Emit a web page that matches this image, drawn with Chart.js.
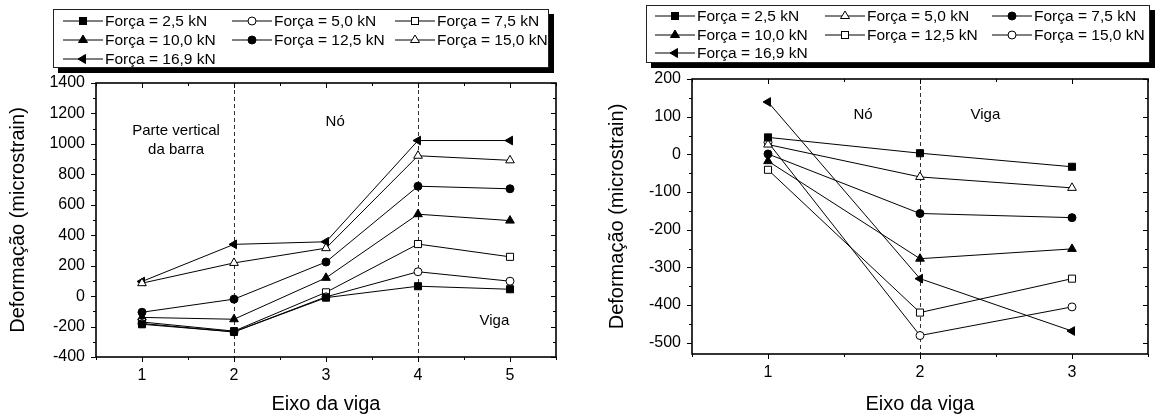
<!DOCTYPE html>
<html><head><meta charset="utf-8">
<script src="https://cdn.jsdelivr.net/npm/chart.js@4.4.1/dist/chart.umd.min.js"></script>
<style>
body{margin:0;width:1157px;height:419px;background:#fff;position:relative;overflow:hidden;font-family:"Liberation Sans",Arial,sans-serif;color:#000;}
canvas{position:absolute;top:0;}
.legend{position:absolute;box-sizing:border-box;border:1px solid #222;background:#fff;box-shadow:5px 5px 0 #000;}
.item{position:absolute;height:18px;display:flex;align-items:center;font-size:15.5px;white-space:nowrap;}
.item svg{margin-right:2px;}
</style></head>
<body>
<canvas id="c1" width="580" height="419" style="left:0px"></canvas>
<canvas id="c2" width="567" height="419" style="left:590px"></canvas>
<div class="legend" id="lg1" style="left:53px;top:9px;width:496px;height:59px"></div>
<div class="legend" id="lg2" style="left:646px;top:5px;width:504px;height:58px"></div>
<script>
// ---- data ----
const forceLabels = ['Força = 2,5 kN','Força = 5,0 kN','Força = 7,5 kN','Força = 10,0 kN','Força = 12,5 kN','Força = 15,0 kN','Força = 16,9 kN'];
const yTitle = 'Deformação (microstrain)';
const xTitle = 'Eixo da viga';

// left chart
const leftX = [1, 2, 3, 4, 5];
const left_F2_5  = [-185, -235, -10, 65, 45];
const left_F5_0  = [-180, -235, -5, 160, 98];
const left_F7_5  = [-170, -230, 25, 342, 258];
const left_F10_0 = [-140, -152, 120, 538, 496];
const left_F12_5 = [-106, -20, 224, 722, 705];
const left_F15_0 = [85, 218, 315, 922, 892];
const left_F16_9 = [96, 340, 357, 1022, 1022];
const leftYTickLabels = [-400, -200, 0, 200, 400, 600, 800, 1000, 1200, 1400];
const leftXTickLabels = [1, 2, 3, 4, 5];
const leftDashed = [2, 4];
const leftNotes = [
  {text:'Parte vertical', x:1.37, y:1085},
  {text:'da barra', x:1.37, y:960},
  {text:'Nó', x:3.1, y:1144},
  {text:'Viga', x:4.83, y:-164}
];

// right chart
const rightX = [1, 2, 3];
const right_F2_5  = [45, 3, -33];
const right_F5_0  = [26, -60, -89];
const right_F7_5  = [1, -157, -168];
const right_F10_0 = [-18, -277, -251];
const right_F12_5 = [-41, -420, -330];
const right_F15_0 = [32, -481, -405];
const right_F16_9 = [139, -330, -469];
const rightYTickLabels = [-500, -400, -300, -200, -100, 0, 100, 200];
const rightXTickLabels = [1, 2, 3];
const rightDashed = [2];
const rightNotes = [
  {text:'Nó', x:1.625, y:104},
  {text:'Viga', x:2.43, y:104}
];

// ---- marker styles ----
const M = {
  sqF:{style:'rect', fill:true, rot:0, r:5},
  sqO:{style:'rect', fill:false, rot:0, r:5},
  ciF:{style:'circle', fill:true, rot:0, r:4},
  ciO:{style:'circle', fill:false, rot:0, r:4},
  trF:{style:'triangle', fill:true, rot:0, r:5},
  trO:{style:'triangle', fill:false, rot:0, r:5},
  lt:{style:'triangle', fill:true, rot:-90, r:5}
};
const leftMarkers = [M.sqF, M.ciO, M.sqO, M.trF, M.ciF, M.trO, M.lt];
const rightMarkers = [M.sqF, M.trO, M.ciF, M.trF, M.sqO, M.ciO, M.lt];

const framePlugin = {
  id:'frame',
  beforeDatasetsDraw(chart, args, o){
    const {ctx, chartArea:a, scales:{x}} = chart;
    ctx.save();
    ctx.setLineDash([4,3]);
    ctx.strokeStyle = '#333'; ctx.lineWidth = 1;
    o.dashes.forEach(v=>{
      const px = Math.round(x.getPixelForValue(v)) + 0.5;
      ctx.beginPath(); ctx.moveTo(px, a.top); ctx.lineTo(px, a.bottom); ctx.stroke();
    });
    ctx.restore();
  },
  afterDraw(chart, args, o){
    const {ctx, chartArea:a, scales:{x, y}} = chart;
    ctx.save();
    ctx.strokeStyle = '#000';
    ctx.lineWidth = 1;
    x.ticks.forEach(t=>{
      const v = t.value;
      const major = Math.abs(v - Math.round(v)) < 1e-6;
      const len = major ? 5 : 3;
      const px = Math.round(x.getPixelForValue(v)) + 0.5;
      ctx.beginPath();
      ctx.moveTo(px, a.bottom); ctx.lineTo(px, a.bottom + len);
      ctx.moveTo(px, a.top); ctx.lineTo(px, a.top + len);
      ctx.stroke();
    });
    y.ticks.forEach(t=>{
      const v = t.value;
      const major = v % o.major === 0;
      const len = major ? 5 : 3;
      const py = Math.round(y.getPixelForValue(v)) + 0.5;
      ctx.beginPath();
      ctx.moveTo(a.left - len, py); ctx.lineTo(a.left, py);
      ctx.moveTo(a.right - len, py); ctx.lineTo(a.right, py);
      ctx.stroke();
    });
    ctx.lineWidth = 1.6;
    ctx.strokeRect(a.left, a.top, a.right - a.left, a.bottom - a.top);
    // annotations
    ctx.fillStyle = '#000';
    ctx.font = '15px "Liberation Sans", Arial, sans-serif';
    ctx.textAlign = 'center'; ctx.textBaseline = 'middle';
    o.notes.forEach(n=>{
      ctx.fillText(n.text, x.getPixelForValue(n.x), y.getPixelForValue(n.y));
    });
    ctx.restore();
  }
};

function stepTicks(min, max, step){
  const out = [];
  const start = Math.ceil(min / step - 1e-9) * step;
  for (let v = start; v <= max + 1e-9; v += step) out.push({value: Math.round(v * 1000) / 1000});
  return out;
}

function makeChart(id, xs, series, markers, c){
  const datasets = series.map((s, i)=>{
    const m = markers[i];
    return {
      label: forceLabels[i],
      data: xs.map((xv, j)=>({x:xv, y:s[j]})),
      borderColor:'#000', borderWidth:1, tension:0,
      pointStyle:m.style, pointRotation:m.rot, pointRadius:m.r,
      pointBackgroundColor: m.fill ? '#000' : '#fff',
      pointBorderColor:'#000', pointBorderWidth:1,
      backgroundColor: m.fill ? '#000' : '#fff'
    };
  });
  const tickFont = {family:'"Liberation Sans", Arial, sans-serif', size:16};
  const titleFont = {family:'"Liberation Sans", Arial, sans-serif', size:20};
  return new Chart(document.getElementById(id), {
    type:'line',
    data:{datasets},
    options:{
      responsive:false, animation:false, events:[],
      layout:{padding:{left:0, top:c.top, right:c.right, bottom:0}},
      plugins:{legend:{display:false}, tooltip:{enabled:false},
        frame:{dashes:c.dashes, notes:c.notes, major:c.yMajor}},
      scales:{
        x:{type:'linear', min:c.xmin, max:c.xmax,
          afterBuildTicks(s){ s.ticks = stepTicks(c.xmin, c.xmax, 0.5); },
          ticks:{autoSkip:false, maxRotation:0, font:tickFont, color:'#000', padding:9,
            callback:(v)=> c.xLabels.includes(v) ? String(v) : ''},
          grid:{display:false, drawTicks:false}, border:{display:false},
          title:{display:true, text:xTitle, font:titleFont, color:'#000', padding:{top:0, bottom:3}},
          afterFit(s){ s.height = c.xh; }
        },
        y:{type:'linear', min:c.ymin, max:c.ymax,
          afterBuildTicks(s){ s.ticks = stepTicks(c.ymin, c.ymax, c.yMinor); },
          ticks:{autoSkip:false, font:tickFont, color:'#000', padding:11,
            callback:(v)=> c.yLabels.includes(v) ? String(v) : ''},
          grid:{display:false, drawTicks:false}, border:{display:false},
          title:{display:true, text:yTitle, font:titleFont, color:'#000', padding:{top:c.ytPad, bottom:0}},
          afterFit(s){ s.width = c.yw; }
        }
      }
    },
    plugins:[framePlugin]
  });
}

makeChart('c1', leftX,
  [left_F2_5, left_F5_0, left_F7_5, left_F10_0, left_F12_5, left_F15_0, left_F16_9], leftMarkers,
  {top:83, right:24, xh:62, yw:96, xmin:0.5, xmax:5.5, ymin:-400, ymax:1400, yMinor:100, yMajor:200,
   xLabels:leftXTickLabels, yLabels:leftYTickLabels, dashes:leftDashed, notes:leftNotes, ytPad:6});

makeChart('c2', rightX,
  [right_F2_5, right_F5_0, right_F7_5, right_F10_0, right_F12_5, right_F15_0, right_F16_9], rightMarkers,
  {top:79, right:1, xh:65, yw:102, xmin:0.5, xmax:3.5, ymin:-530, ymax:200, yMinor:50, yMajor:100,
   xLabels:rightXTickLabels, yLabels:rightYTickLabels, dashes:rightDashed, notes:rightNotes, ytPad:15});

// ---- HTML legends ----
function markerSvg(m){
  let shape = '';
  const fill = m.fill ? '#000' : '#fff';
  const cx = 20, cy = 9;
  if (m.style === 'rect') shape = `<rect x="${cx-3.5}" y="${cy-3.5}" width="7" height="7" fill="${fill}" stroke="#000" stroke-width="1"/>`;
  else if (m.style === 'circle') shape = `<circle cx="${cx}" cy="${cy}" r="4" fill="${fill}" stroke="#000" stroke-width="1"/>`;
  else if (m.rot === -90) shape = `<polygon points="${cx-5},${cy} ${cx+2.5},${cy-4.5} ${cx+2.5},${cy+4.5}" fill="${fill}" stroke="#000" stroke-width="1"/>`;
  else shape = `<polygon points="${cx},${cy-5} ${cx+4.5},${cy+2.5} ${cx-4.5},${cy+2.5}" fill="${fill}" stroke="#000" stroke-width="1"/>`;
  return `<svg width="40" height="18"><line x1="0" y1="${cy}" x2="40" y2="${cy}" stroke="#000" stroke-width="1"/>${shape}</svg>`;
}
function buildLegend(id, markers, cols, rows){
  const el = document.getElementById(id);
  forceLabels.forEach((lab, i)=>{
    const d = document.createElement('div');
    d.className = 'item';
    d.style.left = cols[i % 3] + 'px';
    d.style.top = rows[Math.floor(i / 3)] + 'px';
    d.innerHTML = markerSvg(markers[i]) + '<span>' + lab + '</span>';
    el.appendChild(d);
  });
}
buildLegend('lg1', leftMarkers, [9, 178, 341], [2, 21, 40]);
buildLegend('lg2', rightMarkers, [8, 178, 345], [1, 20, 38]);
</script>
</body></html>
